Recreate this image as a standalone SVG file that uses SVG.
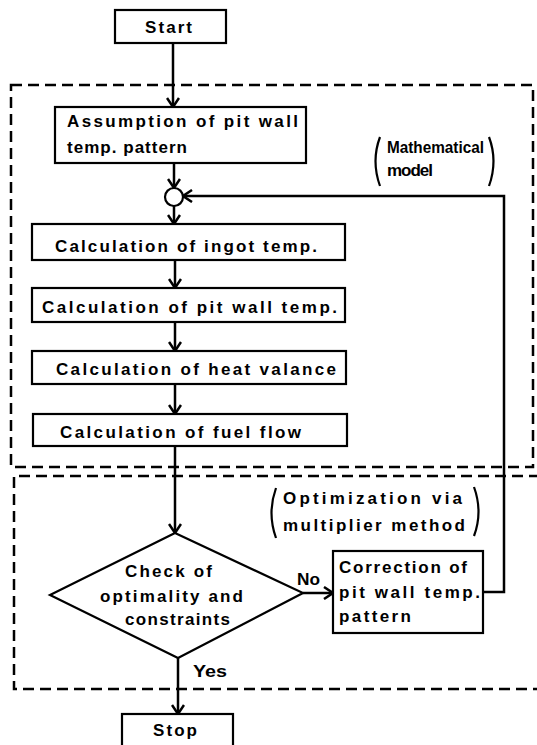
<svg xmlns="http://www.w3.org/2000/svg" width="537" height="745" viewBox="0 0 537 745">
<defs>
<marker id="arr" markerUnits="userSpaceOnUse" markerWidth="14" markerHeight="14" viewBox="0 0 14 14" refX="12" refY="7" orient="auto">
<path d="M3,1 L12,7 L3,13" fill="none" stroke="#000" stroke-width="2.5" stroke-linejoin="miter"/>
</marker>
<style>
.box{fill:#fff;stroke:#000;stroke-width:2.2}
.t{font-family:"Liberation Sans",Arial,sans-serif;font-weight:bold;font-size:17px;fill:#000}
.c{fill:none;stroke:#000;stroke-width:2.5}
.d{fill:none;stroke:#000;stroke-width:2.5;stroke-dasharray:11 6}
.p{fill:none;stroke:#000;stroke-width:2.2}
</style>
</defs>
<rect width="537" height="745" fill="#fff"/>
<g id="regions">
<rect class="d" x="11" y="85" width="522" height="382"/>
<path class="d" d="M540,476 H14 V689 H540"/>
</g>
<g id="connectors">
<path class="c" d="M173,43 V107" marker-end="url(#arr)"/>
<path class="c" d="M174,163 V188" marker-end="url(#arr)"/>
<path class="c" d="M174,206 V224" marker-end="url(#arr)"/>
<path class="c" d="M175,260 V288" marker-end="url(#arr)"/>
<path class="c" d="M175,322 V351" marker-end="url(#arr)"/>
<path class="c" d="M175,384 V414" marker-end="url(#arr)"/>
<path class="c" d="M175,446 V533" marker-end="url(#arr)"/>
<path class="c" d="M303,593 H333" marker-end="url(#arr)"/>
<path class="c" d="M178,658 V714" marker-end="url(#arr)"/>
<path class="c" d="M483,592 H504 V196 H183" marker-end="url(#arr)"/>
<text class="t" x="297" y="585" textLength="23" lengthAdjust="spacingAndGlyphs">No</text>
<text class="t" x="193" y="677" textLength="34" lengthAdjust="spacingAndGlyphs">Yes</text>
</g>
<g id="start">
<rect class="box" x="115" y="10" width="111" height="33"/>
<text class="t" x="145" y="33" textLength="47" lengthAdjust="spacing">Start</text>
</g>
<g id="assumption">
<rect class="box" x="55" y="107" width="251" height="56"/>
<text class="t" x="67" y="127" textLength="231" lengthAdjust="spacing">Assumption of pit wall</text>
<text class="t" x="67" y="153" textLength="120" lengthAdjust="spacing">temp. pattern</text>
</g>
<g id="junction">
<circle cx="174" cy="197" r="9" fill="#fff" stroke="#000" stroke-width="2.2"/>
</g>
<g id="ingot">
<rect class="box" x="32" y="224" width="313" height="36"/>
<text class="t" x="55" y="252" textLength="262" lengthAdjust="spacing">Calculation of ingot temp.</text>
</g>
<g id="pitwall">
<rect class="box" x="32" y="288" width="313" height="34"/>
<text class="t" x="42" y="313" textLength="295" lengthAdjust="spacing">Calculation of pit wall temp.</text>
</g>
<g id="heat">
<rect class="box" x="32" y="351" width="314" height="33"/>
<text class="t" x="56" y="375" textLength="280" lengthAdjust="spacing">Calculation of heat valance</text>
</g>
<g id="fuel">
<rect class="box" x="33" y="414" width="314" height="32"/>
<text class="t" x="60" y="438" textLength="241" lengthAdjust="spacing">Calculation of fuel flow</text>
</g>
<g id="math-label">
<path class="p" d="M380,137 Q371,161 380,186"/>
<path class="p" d="M489,137 Q498,161 489,186"/>
<text class="t" x="387" y="153" textLength="97" lengthAdjust="spacingAndGlyphs">Mathematical</text>
<text class="t" x="387" y="176" textLength="46" lengthAdjust="spacing">model</text>
</g>
<g id="opt-label">
<path class="p" d="M276,488 Q267,513 276,538"/>
<path class="p" d="M474,487 Q483,512 474,536"/>
<text class="t" x="283" y="504" textLength="179" lengthAdjust="spacing">Optimization via</text>
<text class="t" x="283" y="531" textLength="182" lengthAdjust="spacing">multiplier method</text>
</g>
<g id="check">
<polygon class="box" points="175,533 303,593 178,658 50,595"/>
<text class="t" x="125" y="577" textLength="87" lengthAdjust="spacing">Check of</text>
<text class="t" x="100" y="602" textLength="143" lengthAdjust="spacing">optimality and</text>
<text class="t" x="125" y="625" textLength="105" lengthAdjust="spacing">constraints</text>
</g>
<g id="correction">
<rect class="box" x="333" y="551" width="150" height="82"/>
<text class="t" x="339" y="573" textLength="128" lengthAdjust="spacing">Correction of</text>
<text class="t" x="339" y="598" textLength="141" lengthAdjust="spacing">pit wall temp.</text>
<text class="t" x="339" y="622" textLength="72" lengthAdjust="spacing">pattern</text>
</g>
<g id="stop">
<rect class="box" x="122" y="714" width="111" height="40"/>
<text class="t" x="153" y="736" textLength="44" lengthAdjust="spacing">Stop</text>
</g>
</svg>
